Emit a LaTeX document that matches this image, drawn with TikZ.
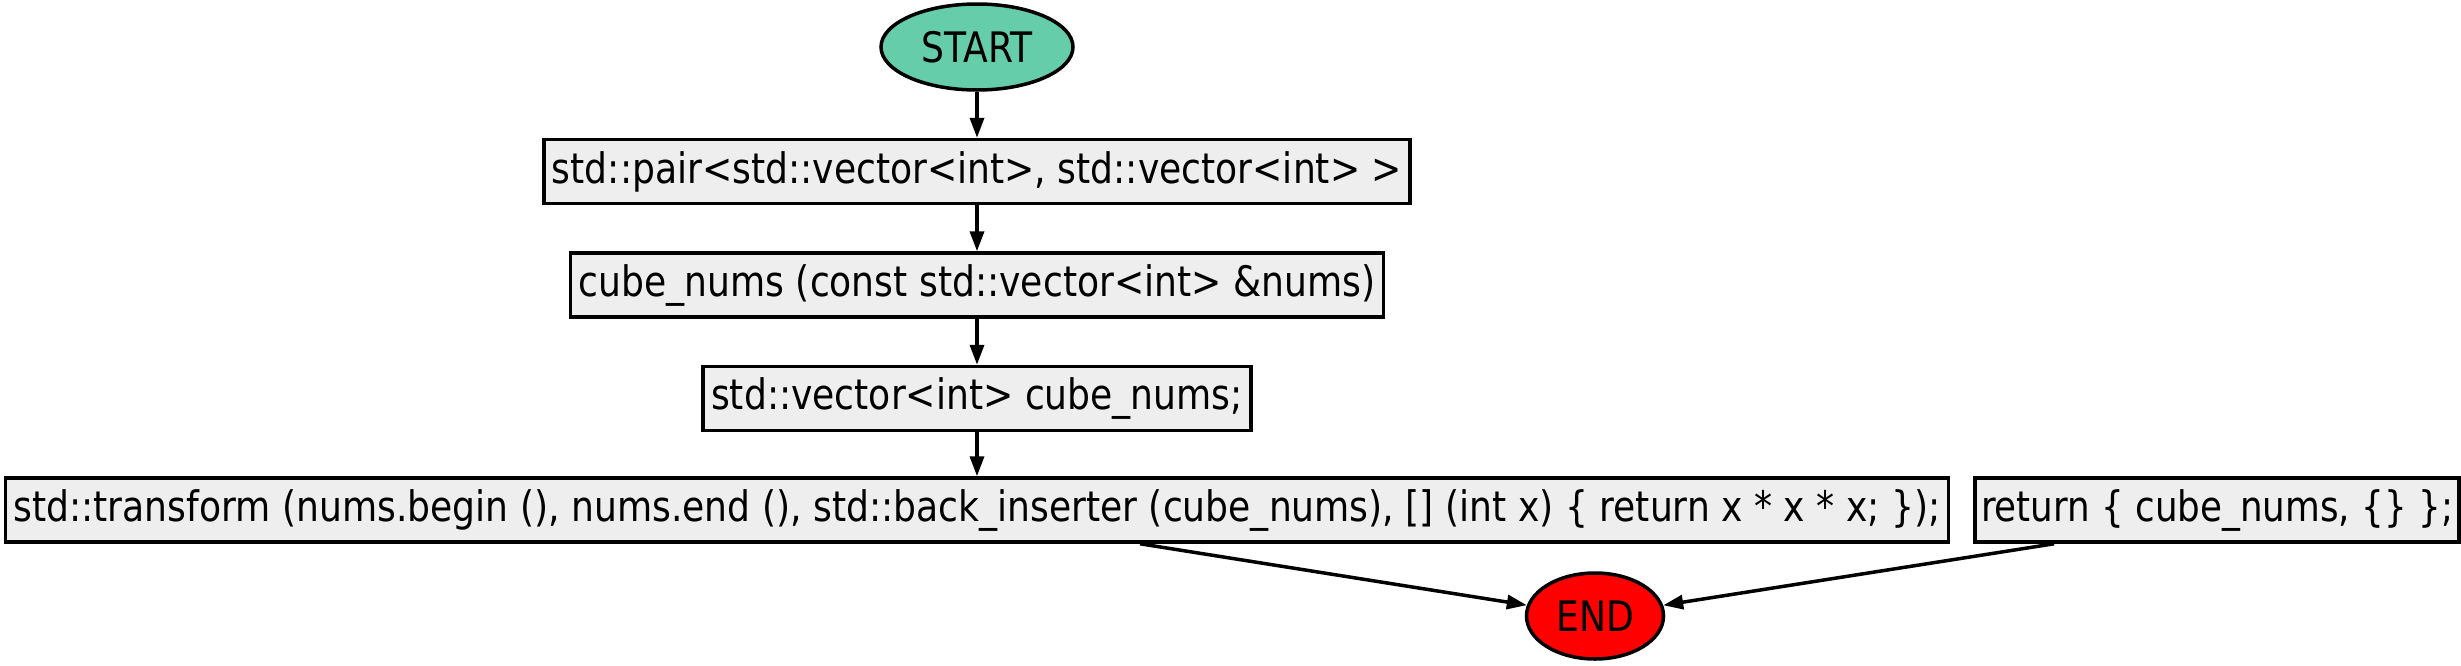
\documentclass[tikz,border=0pt]{standalone}
\usepackage{fontspec}
\setmainfont{DejaVu Sans}[FakeStretch=0.86]
\newfontfamily\narrowcode{DejaVu Sans}[FakeStretch=0.85]
\usetikzlibrary{positioning,shapes.geometric,arrows.meta}

\definecolor{boxgray}{HTML}{EEEEEE}
\definecolor{startgreen}{HTML}{66CDAA}

\tikzset{
  codebox/.style={draw, line width=3.5pt, fill=boxgray, inner xsep=8pt,
    minimum height=64pt, font=\fontsize{42}{50}\selectfont},
  terminal/.style={ellipse, draw, line width=3.5pt, inner sep=0pt,
    font=\fontsize{42}{50}\selectfont},
  flow/.style={-{Triangle[length=20pt,width=14pt]}, line width=3.5pt},
}

\begin{document}
\begin{tikzpicture}[x=1pt,y=1pt,node distance=46pt]
  \useasboundingbox (0,0) rectangle (2461,-665);

  \node[terminal, fill=startgreen, minimum width=192pt, minimum height=86pt] (start) at (977,-47) {START};
  \node[codebox, below=of start] (pair) {std::pair<std::vector<int>, std::vector<int> >};
  \node[codebox, below=of pair] (func) {cube\_nums (const std::vector<int> \&nums)};
  \node[codebox, below=of func] (decl) {std::vector<int> cube\_nums;};
  \node[codebox, below=44pt of decl] (trans) {std::transform (nums.begin (), nums.end (), std::back\_inserter (cube\_nums), [] (int x) \{ return x * x * x; \});};
  \node[codebox, right=23pt of trans, inner xsep=6pt, font=\fontsize{42}{50}\narrowcode] (ret) {return \{ cube\_nums, \{\} \};};
  \node[terminal, fill=red, minimum width=137pt, minimum height=86pt] (end) at (1595,-616) {END};

  % edges
  \draw[flow] (start) -- (pair);
  \draw[flow] (pair) -- (func);
  \draw[flow] (func) -- (decl);
  \draw[flow] (decl) -- (trans);
  \draw[flow] ([xshift=163pt]trans.south) -- (end);
  \draw[flow] ([xshift=-163pt]ret.south) -- (end);
\end{tikzpicture}
\end{document}
